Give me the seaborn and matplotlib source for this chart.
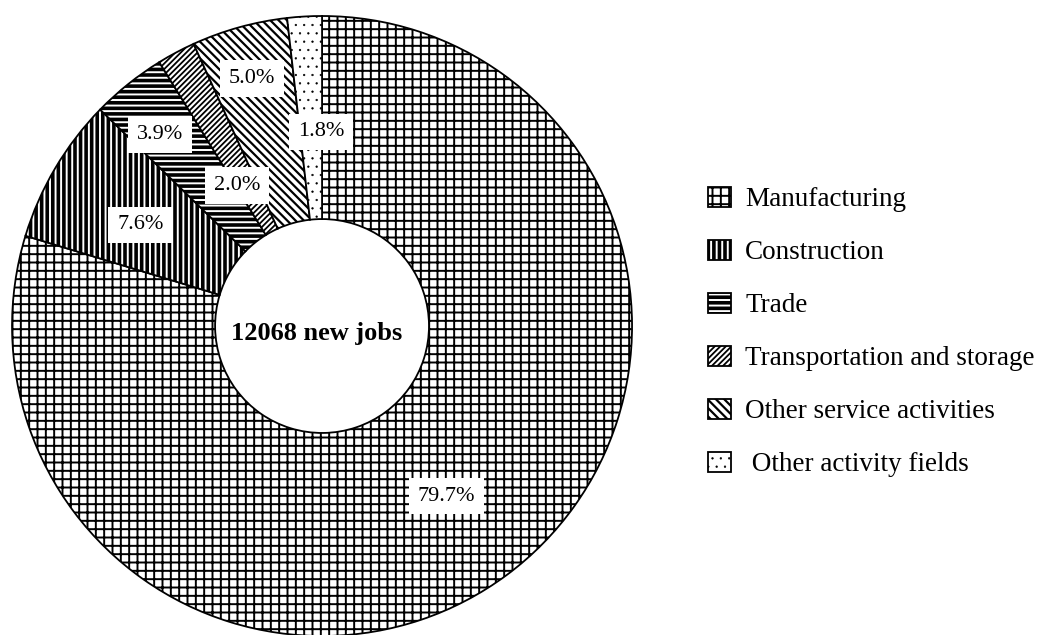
import matplotlib
matplotlib.use("Agg")
import numpy as np
import matplotlib.pyplot as plt
import seaborn as sns

# data, legend order (drawn clockwise from 12 o'clock)
sectors = ["Manufacturing", "Construction", "Trade", "Transportation and storage",
           "Other service activities", "Other activity fields"]
shares = [79.7, 7.6, 3.9, 2.0, 5.0, 1.8]
total_jobs = 12068
legend_labels = ["Manufacturing", "Construction", "Trade", "Transportation and storage",
                 "Other service activities", " Other activity fields"]

hatches = ["++", "|||", "---", "//////", "\\\\\\\\", ".."]
hatch_lw = [1.4, 2.6, 2.6, 1.3, 1.6, 0.4]
# where each % box sits: radius in the ring + small angle nudge (deg)
label_r = [0.68, 0.67, 0.81, 0.53, 0.83, 0.626]
label_nudge = [-0.3, 1.5, 1.5, 3.1, 0.3, -2.9]

sns.set_theme(style="white")
plt.rcParams["font.family"] = ["Liberation Serif", "DejaVu Serif"]
plt.rcParams["text.color"] = "black"
plt.rcParams["hatch.linewidth"] = 1.4
plt.rcParams["hatch.color"] = "black"

fig = plt.figure(figsize=(10.48, 6.35), dpi=100)
ax = fig.add_axes([0.0115, -0.0016, 0.5916, 0.9764])

wedges, _ = ax.pie(shares, startangle=90, counterclock=False,
                   colors=["white"] * len(shares),
                   wedgeprops=dict(width=0.655, edgecolor="black", linewidth=1.3))
for w, h, lw in zip(wedges, hatches, hatch_lw):
    w.set_hatch(h)
    if hasattr(w, "set_hatch_linewidth"):
        w.set_hatch_linewidth(lw)
    w.set_clip_on(False)
ax.set_xlim(-1, 1)
ax.set_ylim(-1, 1)

for w, s, r, d in zip(wedges, shares, label_r, label_nudge):
    ang = np.deg2rad((w.theta1 + w.theta2) / 2 + d)
    ax.text(r * np.cos(ang), r * np.sin(ang), f"{s:.1f}%", ha="center", va="center",
            fontsize=16, bbox=dict(boxstyle="square,pad=0.4", fc="white", ec="none"))

ax.text(-0.016, -0.023, f"{total_jobs} new jobs", ha="center", va="center",
        fontsize=19, fontweight="bold")

leg = fig.legend(wedges, legend_labels, loc="center left", bbox_to_anchor=(0.676, 0.477),
                 frameon=False, fontsize=19.5, handlelength=0.85, handleheight=0.75,
                 handletextpad=0.5, labelspacing=1.02, borderpad=0, borderaxespad=0,
                 labelcolor="black")
for hnd, lw in zip(leg.legend_handles, hatch_lw):
    if hasattr(hnd, "set_hatch_linewidth"):
        hnd.set_hatch_linewidth(lw)

fig.savefig("out.png", dpi=100)
